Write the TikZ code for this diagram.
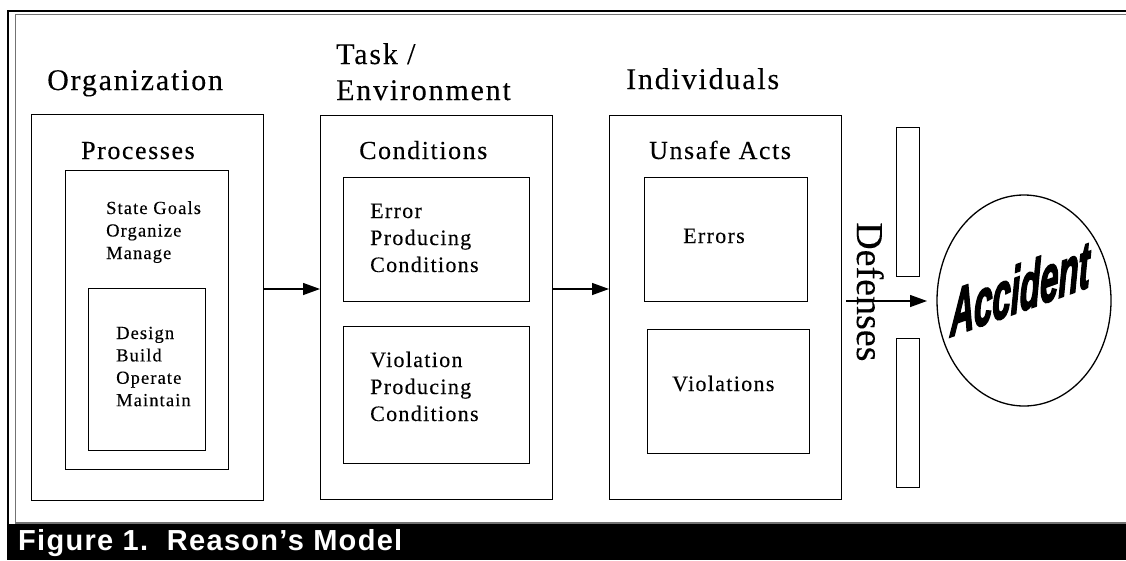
\documentclass[tikz,border=0pt]{standalone}
\usepackage{fontspec}
\setmainfont{Liberation Serif}[LetterSpace=6,FakeBold=0.2]
\newfontfamily\capfont{Liberation Sans}[LetterSpace=4.5]
\newfontfamily\accfont{Liberation Sans}[FakeBold=3.5]
\newfontfamily\deffont{Liberation Serif}[FakeBold=0.15]
\usetikzlibrary{arrows.meta,shapes.geometric}
\begin{document}
\begin{tikzpicture}[x=1pt,y=-1pt,
  box/.style={draw, line width=1.3pt, anchor=north west, inner sep=0pt},
  lbl/.style={anchor=base west, inner sep=0pt},
  head/.style={lbl, font=\fontsize{30}{36}\selectfont},
  sub/.style={lbl, font=\fontsize{26}{31}\selectfont},
  btxt/.style={lbl, font=\fontsize{22}{27}\selectfont},
  stxt/.style={lbl, font=\fontsize{18.5}{22}\selectfont},
  arr/.style={line width=1.3pt, -{Triangle[length=17pt,width=12pt]}}]
\useasboundingbox (0,0) rectangle (1126,560);
% frame
\draw[line width=2.2pt] (8,524) -- (8,11) -- (1126,11);
\draw[line width=1.3pt, black!55] (1126,14.7) -- (15.5,14.7) -- (15.5,523) -- (1126,523);
\fill (7,524) rectangle (1126,560);
\node[anchor=base west, inner sep=0pt, text=white, font=\capfont\bfseries\fontsize{29}{30}\selectfont] (cap) at (18,550.5) {Figure 1.\ \ Reason’s Model};
% headings
\node[head] (horg) at (47,90) {Organization};
\node[head] (htask) at (336,64) {Task /};
\node[head] (henv) at (336,100) {Environment};
\node[head] (hind) at (626,89) {Individuals};
% boxes
\node[box, minimum width=232pt, minimum height=386pt] (org) at (31,114) {};
\node[box, minimum width=163pt, minimum height=299pt] (proc) at (65,170) {};
\node[box, minimum width=117pt, minimum height=162pt] (design) at (88,288) {};
\node[box, minimum width=232pt, minimum height=384pt] (task) at (320,115) {};
\node[box, minimum width=186pt, minimum height=124pt] (err) at (343,177) {};
\node[box, minimum width=186pt, minimum height=137pt] (viol) at (343,326) {};
\node[box, minimum width=232pt, minimum height=384pt] (ind) at (609,115) {};
\node[box, minimum width=163pt, minimum height=124pt] (errs) at (644,177) {};
\node[box, minimum width=162pt, minimum height=124pt] (viols) at (647,329) {};
\node[box, minimum width=23pt, minimum height=149pt] (def1) at (896,127) {};
\node[box, minimum width=23pt, minimum height=149pt] (def2) at (896,338) {};
% sub headings
\node[sub] (sproc) at (81,159) {Processes};
\node[sub] (scond) at (359,159) {Conditions};
\node[sub] (sunsafe) at (649,159) {Unsafe Acts};
% box texts
\foreach \t [count=\i] in {State Goals,Organize,Manage}
  \node[stxt] (sg\i) at (106,{214+22.5*(\i-1)}) {\t};
\foreach \t [count=\i] in {Design,Build,Operate,Maintain}
  \node[stxt] (ds\i) at (116,{339+22.4*(\i-1)}) {\t};
\foreach \t [count=\i] in {Error,Producing,Conditions}
  \node[btxt] (ep\i) at (370,{218+27*(\i-1)}) {\t};
\foreach \t [count=\i] in {Violation,Producing,Conditions}
  \node[btxt] (vp\i) at (370,{367+27*(\i-1)}) {\t};
\node[btxt] (terr) at (683,243) {Errors};
\node[btxt] (tviol) at (672,391) {Violations};
% defenses
\node[anchor=base west, inner sep=0pt, rotate=-90, font=\deffont\fontsize{38}{40}\selectfont] (tdef) at (857,222) {Defenses};
% accident
\node[draw, line width=1.3pt, ellipse, minimum width=174pt, minimum height=211pt, inner sep=0pt] (acc) at (1024,300.5) {};
\node[inner sep=0pt, font=\accfont\bfseries\itshape\fontsize{66}{68}\selectfont, yslant=0.36, xscale=0.5] (tacc) at (1020,288) {Accident};
% arrows
\coordinate (ay) at (0,289);
\draw[arr] (org.east |- ay) -- (task.west |- ay);
\draw[arr] (task.east |- ay) -- (ind.west |- ay);
\coordinate (d0) at (846,301);
\coordinate (d1) at (927,301);
\draw[arr] (d0) -- (d1);
\end{tikzpicture}
\end{document}
